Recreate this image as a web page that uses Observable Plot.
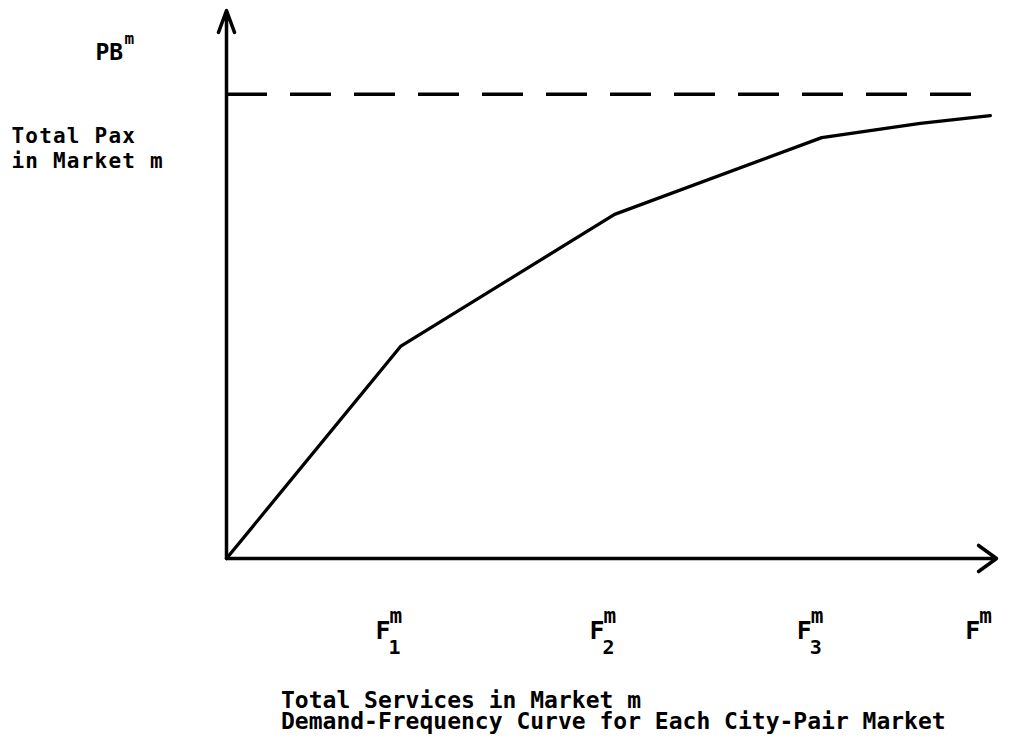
<!DOCTYPE html>
<html>
<head>
<meta charset="utf-8">
<script src="https://cdn.jsdelivr.net/npm/d3@7"></script>
<script src="https://cdn.jsdelivr.net/npm/@observablehq/plot@0.6"></script>
<style>
  html, body { margin: 0; padding: 0; background: #fff; }
  #wrap { position: relative; width: 1014px; height: 746px; overflow: hidden; }
  #caption {
    position: absolute; left: 281px; top: 690px;
    font-family: "DejaVu Sans Mono", monospace; font-weight: bold;
    font-size: 23px; line-height: 21px; letter-spacing: 0px; color: #000;
    white-space: pre;
  }
</style>
</head>
<body>
<div id="wrap">
  <div id="chart"></div>
  <div id="caption"></div>
</div>
<script>
// ---- data (schematic units) ----
const services = [0, 22.6, 50.4, 77.3, 90.1, 99.2];      // total services (frequency)
const passengers = [0, 38.7, 62.8, 76.8, 79.4, 80.8];    // total pax in market m
const pbLevel = 84.7;                                     // PB^m asymptote
const pbExtent = [0, 99.2];
const tickPositions = [22.6, 50.4, 77.3, 99.2];
const tickMain = ["F", "F", "F", "F"];
const tickSup = ["m", "m", "m", "m"];
const tickSub = ["1", "2", "3", ""];
const yLabelMain = ["PB"];
const yLabelSup = ["m"];
const yTitle = ["Total Pax\nin Market m"];
const captionLines = ["Total Services in Market m", "Demand-Frequency Curve for Each City-Pair Market"];
const xAxisLine = [{x1: 0, y1: 0, x2: 100, y2: 0}];
const yAxisLine = [{x1: 0, y1: 0, x2: 0, y2: 100}];

const curve = services.map((s, i) => ({s, p: passengers[i]}));
const ticks = tickPositions.map((x, i) => ({x, main: tickMain[i], sup: tickSup[i], sub: tickSub[i]}));

const FONT = "DejaVu Sans Mono";

const chart = Plot.plot({
  width: 1014,
  height: 680,
  marginLeft: 226,
  marginRight: 18,
  marginTop: 10,
  marginBottom: 122,
  x: {domain: [0, 100], axis: null},
  y: {domain: [0, 100], axis: null},
  style: {fontFamily: FONT, background: "#fff", color: "#000"},
  marks: [
    Plot.arrow(xAxisLine, {
      x1: "x1", y1: "y1", x2: "x2", y2: "y2",
      stroke: "black", strokeWidth: 3.5, headLength: 9.5, headAngle: 72
    }),
    Plot.arrow(yAxisLine, {
      x1: "x1", y1: "y1", x2: "x2", y2: "y2",
      stroke: "black", strokeWidth: 3.5, headLength: 10, headAngle: 40
    }),
    Plot.ruleY([pbLevel], {
      x1: pbExtent[0], x2: pbExtent[1],
      stroke: "black", strokeWidth: 3.5, strokeDasharray: "41,23"
    }),
    Plot.line(curve, {x: "s", y: "p", stroke: "black", strokeWidth: 3.3, strokeLinejoin: "round"}),
    // x tick labels: F, superscript m, subscript index
    Plot.text(ticks, {
      x: "x", text: "main", frameAnchor: "bottom", lineAnchor: "bottom",
      textAnchor: "start", dx: -25, dy: 80, fontSize: 25, fontWeight: "bold", fill: "black"
    }),
    Plot.text(ticks, {
      x: "x", text: "sup", frameAnchor: "bottom", lineAnchor: "bottom",
      textAnchor: "start", dx: -11, dy: 64, fontSize: 21, fontWeight: "bold", fill: "black"
    }),
    Plot.text(ticks, {
      x: "x", text: "sub", frameAnchor: "bottom", lineAnchor: "bottom",
      textAnchor: "start", dx: -12, dy: 95, fontSize: 20, fontWeight: "bold", fill: "black"
    }),
    // y labels
    Plot.text(yLabelMain, {
      text: d => d, frameAnchor: "top-left", lineAnchor: "bottom",
      textAnchor: "start", dx: -131, dy: 49, fontSize: 23, fontWeight: "bold", fill: "black"
    }),
    Plot.text(yLabelSup, {
      text: d => d, frameAnchor: "top-left", lineAnchor: "bottom",
      textAnchor: "start", dx: -102, dy: 33, fontSize: 16, fontWeight: "bold", fill: "black"
    }),
    Plot.text(yTitle, {
      text: d => d, frameAnchor: "top-left", lineAnchor: "bottom", lineHeight: 1.17,
      textAnchor: "start", dx: -215, dy: 157.5, fontSize: 21, fontWeight: "bold", fill: "black",
      letterSpacing: 1.2
    })
  ]
});
chart.querySelectorAll("text").forEach(t => {
  if (t.textContent.startsWith("Total Pax")) t.setAttribute("letter-spacing", "1.2");
});
document.getElementById("chart").appendChild(chart);
document.getElementById("caption").textContent = captionLines.join("\n");
</script>
</body>
</html>
